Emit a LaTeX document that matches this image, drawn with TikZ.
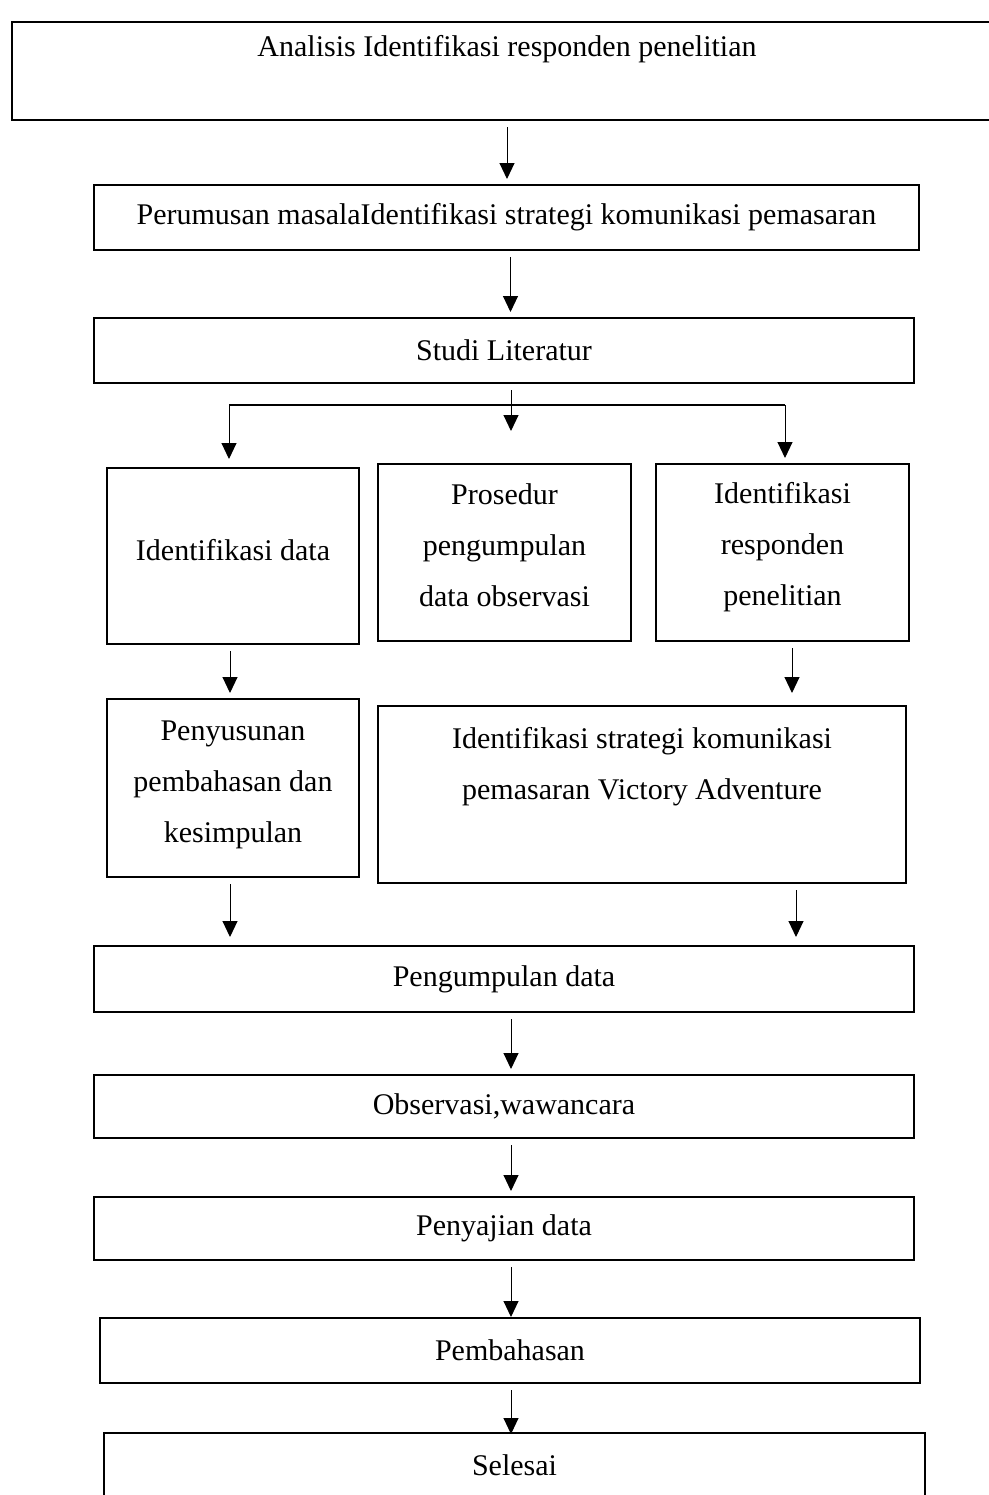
\documentclass[tikz,border=0pt]{standalone}
\usepackage{fontspec}
\setmainfont{Liberation Serif}
\usetikzlibrary{arrows.meta}
\begin{document}
\begin{tikzpicture}[x=0.5pt, y=-0.5pt, >={Triangle[length=8pt,width=7.5pt]},
  box/.style={draw, line width=1pt, align=center, inner sep=0pt, font=\fontsize{15}{25.5}\selectfont},
  arr/.style={->, line width=0.5pt, shorten <=3pt, shorten >=2.5pt}]
\useasboundingbox (0,0) rectangle (989,1495);
\node[box, minimum width=495pt, minimum height=49pt] (ana) at (507,71) {Analisis Identifikasi responden penelitian\\ \mbox{}};
\node[box, minimum width=412.5pt, minimum height=32.5pt] (rum) at (506.5,217.5) {Perumusan masalaIdentifikasi strategi komunikasi pemasaran};
\node[box, minimum width=410pt, minimum height=32.5pt] (lit) at (504,350.5) {Studi Literatur};
\node[box, minimum width=126pt, minimum height=88pt] (idd) at (233,556) {Identifikasi data\\[-19.5pt] \mbox{}};
\node[box, minimum width=126.5pt, minimum height=88.5pt] (pro) at (504.5,552.5) {Prosedur\\ pengumpulan\\ data observasi\\[-18pt] \mbox{}};
\node[box, minimum width=126.5pt, minimum height=88.5pt] (res) at (782.5,552.5) {Identifikasi\\ responden\\ penelitian\\[-17.2pt] \mbox{}};
\node[box, minimum width=126pt, minimum height=89pt] (sus) at (233,788) {Penyusunan\\ pembahasan dan\\ kesimpulan\\[-19.2pt] \mbox{}};
\node[box, minimum width=264pt, minimum height=88.5pt] (str) at (642,794.5) {Identifikasi strategi komunikasi\\ pemasaran Victory Adventure\\[6pt] \mbox{}};
\node[box, minimum width=410pt, minimum height=33pt] (kum) at (504,979) {Pengumpulan data};
\node[box, minimum width=410pt, minimum height=31.5pt] (obs) at (504,1106.5) {Observasi,wawancara};
\node[box, minimum width=410pt, minimum height=31.5pt] (saj) at (504,1228.5) {Penyajian data};
\node[box, minimum width=410pt, minimum height=32.5pt] (bah) at (510,1350.5) {Pembahasan};
\node[box, minimum width=410.5pt, minimum height=32.5pt] (sel) at (514.5,1465.5) {Selesai};
% alur utama
\draw[arr] (ana.south) -- (ana.south |- rum.north);
\draw[arr] ([xshift=2pt]rum.south) -- ([xshift=2pt]rum.south |- lit.north);
% percabangan studi literatur
\coordinate (cab) at (511,405);
\draw[arr, shorten >=16pt] ([xshift=3.5pt]lit.south) -- ([xshift=3.5pt]lit.south |- pro.north);
\draw[line width=1pt] (cab -| 229,0) -- (cab -| 785,0);
\draw[arr, shorten <=0pt, shorten >=4.5pt] (cab -| 229,0) -- (229,468);
\draw[arr, shorten <=0pt, shorten >=3pt] (cab -| 785,0) -- (785,464);
\draw[arr] ([xshift=-1.5pt]idd.south) -- ([xshift=-1.5pt]idd.south |- sus.north);
\draw[arr, shorten >=6pt] ([xshift=4.75pt]res.south) -- ([xshift=4.75pt]res.south |- str.north);
\draw[arr, shorten >=4pt] ([xshift=-1.5pt]sus.south) -- ([xshift=-1.5pt]sus.south |- kum.north);
\draw[arr, shorten >=4pt] ([xshift=77pt]str.south) -- ([xshift=77pt]str.south |- kum.north);
\draw[arr] ([xshift=3.5pt]kum.south) -- ([xshift=3.5pt]kum.south |- obs.north);
\draw[arr] ([xshift=3.5pt]obs.south) -- ([xshift=3.5pt]obs.south |- saj.north);
\draw[arr, shorten >=0pt] ([xshift=3.5pt]saj.south) -- ([xshift=3.5pt]saj.south |- bah.north);
\draw[arr, shorten >=-1pt] ([xshift=0.5pt]bah.south) -- ([xshift=0.5pt]bah.south |- sel.north);
\end{tikzpicture}
\end{document}
